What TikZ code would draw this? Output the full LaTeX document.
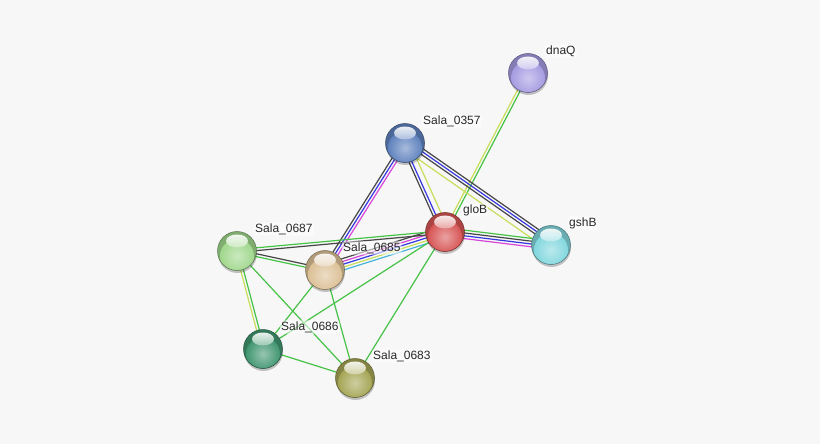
\documentclass[tikz,border=0pt]{standalone}
\usepackage{fontspec}
\setmainfont{Liberation Sans}
\usetikzlibrary{calc,shadows}
\pgfdeclarelayer{back}
\pgfdeclarelayer{bg}
\pgfsetlayers{back,bg,main}
\definecolor{bgc}{RGB}{247,247,247}
\definecolor{eg}{RGB}{70,195,70}
\definecolor{ek}{RGB}{70,70,70}
\definecolor{eb}{RGB}{55,55,225}
\definecolor{em}{RGB}{215,70,215}
\definecolor{ey}{RGB}{200,222,90}
\definecolor{ec}{RGB}{70,180,220}
\definecolor{cdnaQ}{RGB}{165,155,225}
\definecolor{c0357}{RGB}{95,130,190}
\definecolor{cgloB}{RGB}{215,85,85}
\definecolor{cgshB}{RGB}{130,215,222}
\definecolor{c0687}{RGB}{160,215,140}
\definecolor{c0685}{RGB}{220,192,150}
\definecolor{c0686}{RGB}{65,150,112}
\definecolor{c0683}{RGB}{165,165,85}
\definecolor{lblc}{RGB}{40,40,40}
\tikzset{
  gap/.style={draw=none},
  ball/.style={circle, minimum size=39pt, inner sep=0pt,
    draw=#1!55!black, line width=0.5pt,
    drop shadow={shadow xshift=0.5pt, shadow yshift=-2.5pt, opacity=.22, fill=black},
    path picture={
      \fill[#1!80!black] (path picture bounding box.center) circle (20pt);
      \shade[inner color=#1!55!white, outer color=#1] ($(path picture bounding box.center)+(0pt,-5pt)$) circle (17pt);
      \shade[top color=white, bottom color=#1!50!white, opacity=.9] ($(path picture bounding box.center)+(0pt,10pt)$) ellipse (11pt and 6.5pt);
    }},
  lbl/.style={anchor=west, inner sep=1pt, text=lblc, fill=white, fill opacity=0.55, text opacity=1,
    rounded corners=2pt, font=\fontsize{12}{14}\selectfont},
  edge/.style={line width=1.2pt}
}
\newcommand\bundle[3]{%
  \foreach \c [count=\i] in {#3} {\xdef\bundlen{\i}}%
  \foreach \c [count=\i] in {#3} {%
    \pgfmathsetmacro\off{(\i-(\bundlen+1)/2)*2.8}%
    \draw[edge,\c] ($(#1)!\off pt!90:(#2)$) -- ($(#2)!\off pt!-90:(#1)$);%
  }%
}
\begin{document}
\begin{tikzpicture}[x=1pt,y=-1pt]
\begin{pgfonlayer}{back}
\fill[bgc] (0,0) rectangle (820,444);
\end{pgfonlayer}
\useasboundingbox (0,0) rectangle (820,444);
\node[ball=cdnaQ] (dnaQ) at (528,73) {};
\node[ball=c0357] (s0357) at (405,143) {};
\node[ball=cgloB] (gloB) at (445,232) {};
\node[ball=cgshB] (gshB) at (551,245) {};
\node[ball=c0687] (s0687) at (237,251) {};
\node[ball=c0685] (s0685) at (325,270) {};
\node[ball=c0686] (s0686) at (263,349) {};
\node[ball=c0683] (s0683) at (355,378) {};
\begin{pgfonlayer}{bg}
\bundle{dnaQ}{gloB}{ey,eg}
\bundle{s0357}{gloB}{ek,eb,gap,ey}
\bundle{s0357}{gshB}{ey,gap,ek,eb,ek}
\bundle{gloB}{gshB}{em,eb,ek,eg}
\bundle{s0357}{s0685}{ek,eb,em}
\bundle{gloB}{s0685}{ek,em,eb,ey,ec}
\bundle{gloB}{s0687}{eg,ek}
\bundle{s0687}{s0685}{eg,ek}
\bundle{s0687}{s0686}{ey,eg}
\draw[edge,eg] (gloB) -- (s0686);
\draw[edge,eg] (gloB) -- (s0683);
\draw[edge,eg] (s0687) -- (s0683);
\draw[edge,eg] (s0685) -- (s0686);
\draw[edge,eg] (s0685) -- (s0683);
\draw[edge,eg] (s0686) -- (s0683);
\end{pgfonlayer}
\node[lbl] (ldnaQ) at ([shift={(17,-22)}]dnaQ.center) {dnaQ};
\node[lbl] (l0357) at ([shift={(17,-22)}]s0357.center) {Sala\_0357};
\node[lbl] (lgloB) at ([shift={(17,-22)}]gloB.center) {gloB};
\node[lbl] (lgshB) at ([shift={(17,-22)}]gshB.center) {gshB};
\node[lbl] (l0687) at ([shift={(17,-22)}]s0687.center) {Sala\_0687};
\node[lbl] (l0685) at ([shift={(17,-22)}]s0685.center) {Sala\_0685};
\node[lbl] (l0686) at ([shift={(17,-22)}]s0686.center) {Sala\_0686};
\node[lbl] (l0683) at ([shift={(17,-22)}]s0683.center) {Sala\_0683};
\end{tikzpicture}
\end{document}
